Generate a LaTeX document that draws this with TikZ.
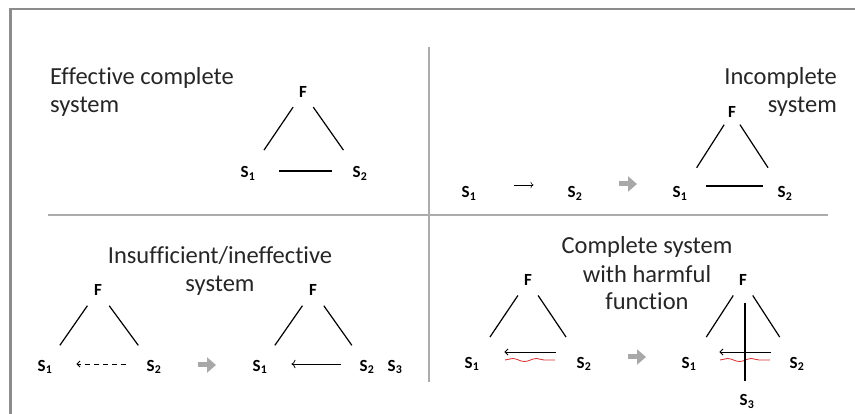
\documentclass[tikz,border=0pt]{standalone}
\usepackage{fontspec}
\setmainfont{Carlito}[Ligatures=NoCommon]
\usetikzlibrary{arrows.meta,calc,decorations.pathmorphing}
\definecolor{frameg}{RGB}{140,140,140}
\definecolor{divg}{RGB}{172,172,172}
\definecolor{stepg}{RGB}{168,168,168}
\definecolor{harm}{RGB}{215,45,45}
\tikzset{
  px/.style={x=1pt,y=-1pt},
  captext/.style={font=\fontsize{24.5}{28}\selectfont, text=black!85, inner sep=0pt},
  lbl/.style={font=\fontsize{17}{19}\selectfont\bfseries, inner sep=0pt, anchor=base},
  leg/.style={line width=1.2pt},
  nextstep/.style={draw=stepg, line width=5pt, -{Triangle[length=9pt,width=15pt]}},
  harmwave/.style={draw=harm, line width=0.8pt, decorate,
    decoration={snake, amplitude=1.5pt, segment length=24pt}},
}

\begin{document}
\begin{tikzpicture}[px]
    \useasboundingbox (0,0) rectangle (855,414);
    % frame and dividers
    \draw[frameg, line width=2.5pt] (10.5,414) -- (10.5,9) -- (855,9);
    \draw[divg, line width=1.5pt] (429,47) -- (429,382);
    \draw[divg, line width=1.5pt] (48,215) -- (828,215);

    % effective complete system
    \node[captext, anchor=base west, align=left] (capeff) at (50,113) {Effective complete\\system};
    \node[lbl] (Feff) at (303,98) {F};
    \node[lbl] (S1eff) at (248,178) {S\textsubscript{1}};
    \node[lbl] (S2eff) at (360,178) {S\textsubscript{2}};
    \draw[leg] ($(Feff)!.18!(S1eff)$) -- ($(Feff)!.71!(S1eff)$);
    \draw[leg] ($(Feff)!.18!(S2eff)$) -- ($(Feff)!.71!(S2eff)$);
    \draw[leg, shorten <=24pt, shorten >=21pt] ([yshift=7pt]S1eff.base east) -- ([yshift=7pt]S2eff.base west);

    % incomplete system
    \node[captext, anchor=base east, align=right] (capinc) at (837,113) {Incomplete\\system};
    \node[lbl] (S1pre) at (469,198) {S\textsubscript{1}};
    \node[lbl] (S2pre) at (575,198) {S\textsubscript{2}};
    \draw[line width=0.6pt, -{To[length=3pt]}, shorten <=38pt, shorten >=34pt]
      ([yshift=13pt]S1pre.base east) -- ([yshift=13pt]S2pre.base west);
    \coordinate (goinc) at (628,184);
    \draw[nextstep] ([xshift=-9pt]goinc) -- ([xshift=9pt]goinc);
    \node[lbl] (Finc) at (732,118) {F};
    \node[lbl] (S1inc) at (680,198) {S\textsubscript{1}};
    \node[lbl] (S2inc) at (785,198) {S\textsubscript{2}};
    \draw[leg] ($(Finc)!.15!(S1inc)$) -- ($(Finc)!.68!(S1inc)$);
    \draw[leg] ($(Finc)!.15!(S2inc)$) -- ($(Finc)!.68!(S2inc)$);
    \draw[leg, shorten <=19pt, shorten >=15pt] ([yshift=12pt]S1inc.base east) -- ([yshift=12pt]S2inc.base west);

    % insufficient / ineffective system
    \node[captext, anchor=base, align=center] (capins) at (220,292) {Insufficient/ineffective\\system};
    \node[lbl] (Fweak) at (98,296) {F};
    \node[lbl] (S1weak) at (45,371) {S\textsubscript{1}};
    \node[lbl] (S2weak) at (154,371) {S\textsubscript{2}};
    \draw[leg] ($(Fweak)!.2!(S1weak)$) -- ($(Fweak)!.72!(S1weak)$);
    \draw[leg] ($(Fweak)!.2!(S2weak)$) -- ($(Fweak)!.72!(S2weak)$);
    \draw[line width=0.8pt, dash pattern=on 5pt off 4pt, -{Straight Barb[length=3pt,width=6pt]},
      shorten <=21pt, shorten >=24pt] ([yshift=7pt]S2weak.base west) -- ([yshift=7pt]S1weak.base east);
    \coordinate (goins) at (207,365);
    \draw[nextstep] ([xshift=-9pt]goins) -- ([xshift=9pt]goins);
    \node[lbl] (Ffix) at (313,296) {F};
    \node[lbl] (S1fix) at (260,371) {S\textsubscript{1}};
    \node[lbl] (S2fix) at (367,371) {S\textsubscript{2}};
    \node[lbl] (S3fix) at (395,371) {S\textsubscript{3}};
    \draw[leg] ($(Ffix)!.2!(S1fix)$) -- ($(Ffix)!.72!(S1fix)$);
    \draw[leg] ($(Ffix)!.2!(S2fix)$) -- ($(Ffix)!.72!(S2fix)$);
    \draw[line width=0.8pt, -{To[length=4pt]}, shorten <=19pt, shorten >=24pt]
      ([yshift=7pt]S2fix.base west) -- ([yshift=7pt]S1fix.base east);

    % complete system with harmful function
    \node[captext, anchor=base, align=center] (capharm) at (647,310) {Complete system\\with harmful\\function};
    \node[lbl] (Fharm) at (528,286) {F};
    \node[lbl] (S1harm) at (472,368) {S\textsubscript{1}};
    \node[lbl] (S2harm) at (584,368) {S\textsubscript{2}};
    \draw[leg] ($(Fharm)!.18!(S1harm)$) -- ($(Fharm)!.68!(S1harm)$);
    \draw[leg] ($(Fharm)!.18!(S2harm)$) -- ($(Fharm)!.68!(S2harm)$);
    \draw[line width=0.8pt, -{Straight Barb[length=3pt,width=6pt]}, shorten <=21pt, shorten >=25pt]
      ([yshift=16pt]S2harm.base west) -- ([yshift=16pt]S1harm.base east);
    \draw[harmwave] (505,360) -- (555,360);
    \coordinate (goharm) at (637,357);
    \draw[nextstep] ([xshift=-9pt]goharm) -- ([xshift=9pt]goharm);
    \node[lbl] (Fcut) at (743,286) {F};
    \node[lbl] (S1cut) at (689,368) {S\textsubscript{1}};
    \node[lbl] (S2cut) at (797,368) {S\textsubscript{2}};
    \node[lbl] (S3cut) at (747,406) {S\textsubscript{3}};
    \draw[leg] ($(Fcut)!.18!(S1cut)$) -- ($(Fcut)!.68!(S1cut)$);
    \draw[leg] ($(Fcut)!.18!(S2cut)$) -- ($(Fcut)!.68!(S2cut)$);
    \draw[line width=0.8pt, -{Straight Barb[length=3pt,width=6pt]}, shorten <=19pt, shorten >=23pt]
      ([yshift=16pt]S2cut.base west) -- ([yshift=16pt]S1cut.base east);
    \draw[harmwave] (720,360) -- (770,360);
    \coordinate (cut) at (745,303);
    \draw[leg, shorten >=14pt] (cut) -- (cut |- S3cut.north);
\end{tikzpicture}
\end{document}
